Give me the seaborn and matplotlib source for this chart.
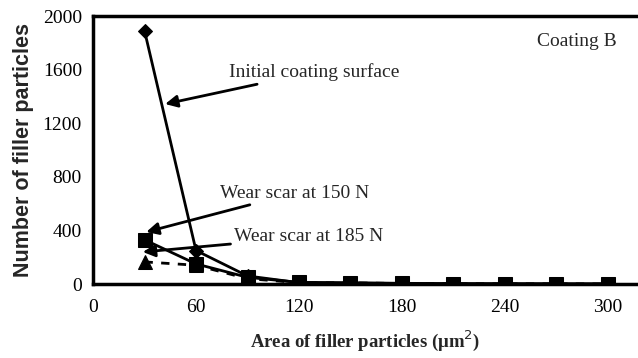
import matplotlib
matplotlib.use("Agg")
import matplotlib.pyplot as plt
import seaborn as sns
import pandas as pd

area = [30, 60, 90, 120, 150, 180, 210, 240, 270, 300]
initial_surface = [1890, 250, 60, 10, 5, 2, 1, 1, 1, 0]
scar_150N = [330, 150, 50, 12, 10, 5, 3, 2, 1, 1]
scar_185N = [165, 140, 40, 10, 8, 4, 2, 1, 1, 0]

x_ticks = [0, 60, 120, 180, 240, 300]
y_ticks = [0, 400, 800, 1200, 1600, 2000]

sns.set_theme(style="white")
plt.rcParams['font.family'] = ['Liberation Serif', 'DejaVu Serif']

fig = plt.figure(figsize=(6.38, 3.58), dpi=100)
ax = fig.add_axes([0.1458, 0.2067, 0.8542, 0.7486])

df = pd.DataFrame({"area": area, "initial": initial_surface,
                   "s150": scar_150N, "s185": scar_185N})

sns.lineplot(data=df, x="area", y="initial", ax=ax, color="black", lw=2,
             marker="D", markersize=7.5, markeredgecolor="black", zorder=3)
sns.lineplot(data=df, x="area", y="s185", ax=ax, color="black", lw=2,
             linestyle=(0, (3, 3)), marker="^", markersize=10.5,
             markeredgecolor="black", zorder=4)
sns.lineplot(data=df, x="area", y="s150", ax=ax, color="black", lw=2,
             marker="s", markersize=10.5, markeredgecolor="black", zorder=5)

ax.set_xlim(0, 317.5)
ax.set_ylim(0, 2000)
ax.set_xticks(x_ticks)
ax.set_yticks(y_ticks)
ax.tick_params(axis="both", direction="in", length=6, width=2,
               labelsize=14, colors="black")
ax.tick_params(axis="x", pad=11)
ax.tick_params(axis="y", pad=8)
for lab in ax.get_xticklabels() + ax.get_yticklabels():
    lab.set_fontfamily('Liberation Serif')

for s in ["left", "bottom", "top"]:
    ax.spines[s].set_linewidth(2.5)
    ax.spines[s].set_color("black")
ax.spines["right"].set_visible(False)

ax.set_xlabel("Area of filler particles (\u03bcm$^{2}$)", fontsize=13.5,
              fontweight="bold", fontfamily="Liberation Serif", labelpad=9)
ax.set_ylabel("Number of filler particles", fontsize=15.5,
              fontweight="bold", fontfamily="Liberation Sans", labelpad=6)

arrow = dict(arrowstyle="-|>", lw=2, color="black", mutation_scale=18,
             shrinkA=0, shrinkB=0)
ax.annotate("Initial coating surface", xy=(42, 1343), xytext=(79, 1582),
            fontsize=14, va="center", ha="left", arrowprops=arrow, zorder=6)
ax.annotate("Wear scar at 150 N", xy=(31, 388), xytext=(74, 679),
            fontsize=14, va="center", ha="left", arrowprops=arrow, zorder=6)
ax.annotate("Wear scar at 185 N", xy=(29, 239), xytext=(82, 351),
            fontsize=14, va="center", ha="left", arrowprops=arrow, zorder=6)
ax.text(305, 1806, "Coating B", fontsize=14, ha="right", va="center")

fig.savefig("out.png", dpi=100)
